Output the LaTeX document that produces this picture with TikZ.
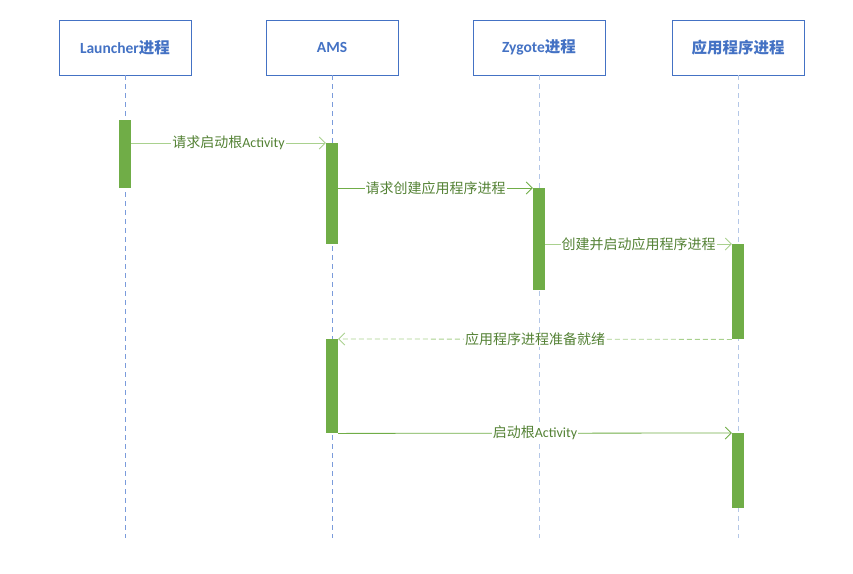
\documentclass[tikz,border=0pt]{standalone}
\usepackage{fontspec}
\setmainfont{Carlito}
\newfontfamily\cjkfont{Noto Sans CJK SC}
\newcommand{\zh}[1]{{\cjkfont #1}}
\usepackage{tikz}
\usetikzlibrary{arrows.meta}
\definecolor{boxblue}{HTML}{4472C4}
\definecolor{lifeblue}{HTML}{7A9BDB}
\definecolor{lifepale}{HTML}{B4C7E7}
\definecolor{bargreen}{HTML}{70AD47}
\definecolor{palegreen}{HTML}{A9D18E}
\definecolor{textgreen}{HTML}{548235}

\begin{document}
\begin{tikzpicture}[x=1pt,y=-1pt,
  actor/.style={draw=boxblue,line width=0.8pt,minimum width=132pt,minimum height=55pt,text=boxblue,font=\fontsize{15.5}{18}\selectfont\bfseries},
  life/.style={draw=lifeblue,dashed,dash pattern=on 5pt off 4pt,line width=0.6pt},
  lifepale/.style={life,draw=lifepale},
  bar/.style={fill=bargreen,draw=none,minimum width=12pt,inner sep=0pt},
  msg/.style={draw=bargreen,line width=0.8pt,-{Straight Barb[length=6pt,width=12pt]}},
  msgpale/.style={msg,draw=palegreen},
  reply/.style={msgpale,dashed,dash pattern=on 5pt off 3pt},
  lbl/.style={fill=white,text=textgreen,inner sep=1pt,font=\fontsize{14}{16}\selectfont}]
  \useasboundingbox (0,0) rectangle (853,573);
  %actors
  \node[actor] (launcher) at (125,47.5) {Launcher\zh{进程}};
  \node[actor] (ams) at (332,47.5) {AMS};
  \node[actor] (zygote) at (539,47.5) {Zygote\zh{进程}};
  \node[actor] (app) at (738,47.5) {\zh{应用程序进程}};
  %lifelines
  \coordinate (bottom) at (0,538);
  \draw[life] (launcher.south) -- (launcher.south |- bottom);
  \draw[life] (ams.south) -- (ams.south |- bottom);
  \draw[lifepale] (zygote.south) -- (zygote.south |- bottom);
  \draw[lifepale] (app.south) -- (app.south |- bottom);
  %activations
  \node[bar,minimum height=68pt,anchor=north] (lb) at (125,120) {};
  \node[bar,minimum height=101pt,anchor=north] (ab1) at (332,143) {};
  \node[bar,minimum height=102pt,anchor=north] (zb) at (539,188) {};
  \node[bar,minimum height=95pt,anchor=north] (pb1) at (738,244) {};
  \node[bar,minimum height=94pt,anchor=north] (ab2) at (332,339) {};
  \node[bar,minimum height=75pt,anchor=north] (pb2) at (738,433) {};
  %messages
  \draw[msgpale] (lb.east |- ab1.north) -- node[lbl]{\zh{请求启动根}Activity} (ab1.north west);
  \draw[msg] (ab1.east |- zb.north) -- node[lbl]{\zh{请求创建应用程序进程}} (zb.north west);
  \draw[msgpale] (zb.east |- pb1.north) -- node[lbl]{\zh{创建并启动应用程序进程}} (pb1.north west);
  \draw[reply] (pb1.south west) -- node[lbl]{\zh{应用程序进程准备就绪}} (ab2.north east);
  \draw[msg] (ab2.south east) -- node[lbl]{\zh{启动根}Activity} (pb2.north west);
\end{tikzpicture}
\end{document}
